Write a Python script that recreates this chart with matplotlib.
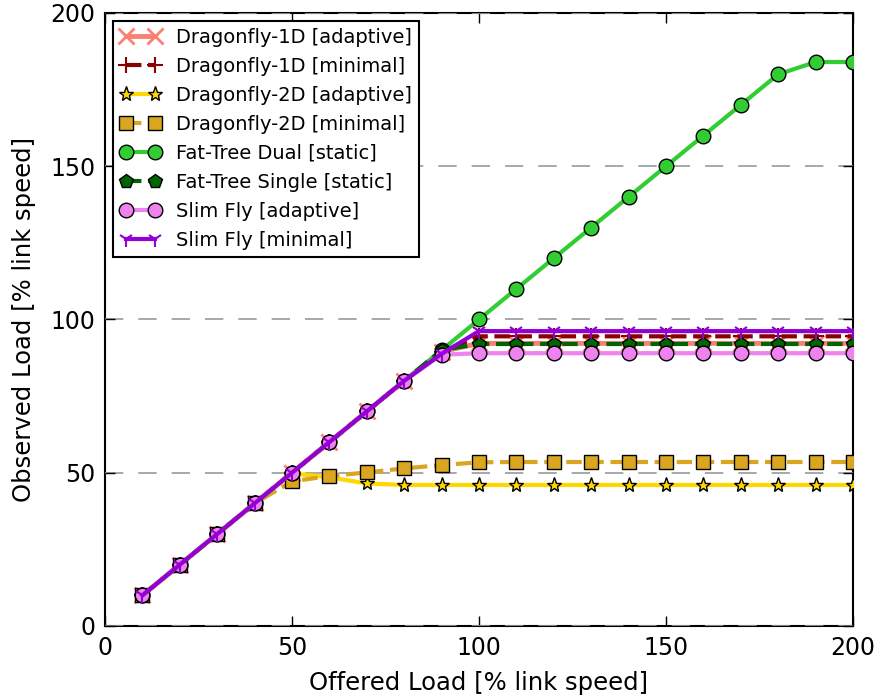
import matplotlib
matplotlib.use("Agg")
import matplotlib.pyplot as plt

# Offered load [% link speed]
offered = [10, 20, 30, 40, 50, 60, 70, 80, 90, 100, 110, 120, 130, 140, 150,
           160, 170, 180, 190, 200]

# Observed load [% link speed] for each topology / routing
df1d_adaptive = [10, 20, 30, 40, 50, 60, 70, 80, 89.5, 92.2, 92.2, 92.2, 92.2,
                 92.2, 92.2, 92.2, 92.2, 92.2, 92.2, 92.2]
df1d_minimal = [10, 20, 30, 40, 50, 60, 70, 80, 89.5, 94.5, 94.5, 94.5, 94.5,
                94.5, 94.5, 94.5, 94.5, 94.5, 94.5, 94.5]
df2d_adaptive = [10, 20, 30, 40, 49.8, 48.5, 46.5, 46.0, 46.0, 46.0, 46.0, 46.0,
                 46.0, 46.0, 46.0, 46.0, 46.0, 46.0, 46.0, 46.0]
df2d_minimal = [10, 20, 30, 40, 47.2, 48.9, 50.1, 51.4, 52.5, 53.4, 53.5, 53.5,
                53.5, 53.5, 53.5, 53.5, 53.5, 53.5, 53.5, 53.5]
ft_dual = [10, 20, 30, 40, 50, 60, 70, 80, 90, 100, 110, 120, 130, 140, 150,
           160, 170, 180, 184, 184]
ft_single = [10, 20, 30, 40, 50, 60, 70, 80, 90, 92.0, 92.0, 92.0, 92.0, 92.0,
             92.0, 92.0, 92.0, 92.0, 92.0, 92.0]
sf_adaptive = [10, 20, 30, 40, 50, 60, 70, 80, 88.5, 89.0, 89.0, 89.0, 89.0,
               89.0, 89.0, 89.0, 89.0, 89.0, 89.0, 89.0]
sf_minimal = [10, 20, 30, 40, 50, 60, 70, 80, 88.8, 96.2, 96.2, 96.2, 96.2,
              96.2, 96.2, 96.2, 96.2, 96.2, 96.2, 96.2]

labels = ["Dragonfly-1D [adaptive]", "Dragonfly-1D [minimal]",
          "Dragonfly-2D [adaptive]", "Dragonfly-2D [minimal]",
          "Fat-Tree Dual [static]", "Fat-Tree Single [static]",
          "Slim Fly [adaptive]", "Slim Fly [minimal]"]

x_ticks = [0, 50, 100, 150, 200]
y_ticks = [0, 50, 100, 150, 200]

plt.rcParams["font.family"] = ["DejaVu Sans"]

fig = plt.figure(figsize=(8.79, 6.98), dpi=100)
ax = fig.add_axes([0.1195, 0.1032, 0.8509, 0.8782])

series = [
    (df1d_adaptive, dict(color="#FA8072", ls="-", lw=3.5, marker="x", ms=11,
                         mew=2, mec="#FA8072")),
    (df1d_minimal, dict(color="#8B0000", ls="--", lw=3, marker="+", ms=11,
                        mew=1.5, mec="#8B0000")),
    (df2d_adaptive, dict(color="#FFD700", ls="-", lw=3, marker="*", ms=11,
                         mew=1, mec="black")),
    (df2d_minimal, dict(color="#DAA520", ls="--", lw=3, marker="s", ms=10,
                        mew=1, mec="black")),
    (ft_dual, dict(color="#32CD32", ls="-", lw=3, marker="o", ms=10.5,
                   mew=1, mec="black")),
    (ft_single, dict(color="#006400", ls="--", lw=3, marker="p", ms=10,
                     mew=1, mec="black")),
    (sf_adaptive, dict(color="#EE82EE", ls="-", lw=3, marker="o", ms=10.5,
                       mew=1, mec="black")),
    (sf_minimal, dict(color="#9400D3", ls="-", lw=3, marker="1", ms=11,
                      mew=1.5, mec="#9400D3")),
]

for i, ((ys, style), label) in enumerate(zip(series, labels)):
    ax.plot(offered, ys, label=label, zorder=3 + i * 0.01, **style)

ax.set_xlim(0, 200)
ax.set_ylim(0, 200)
ax.set_xticks(x_ticks)
ax.set_yticks(y_ticks)
ax.tick_params(direction="in", length=7, width=1, labelsize=17,
               top=True, right=True, pad=7)

ax.set_axisbelow(False)
ax.yaxis.grid(True, color="#999999", linestyle=(0, (11, 9)), linewidth=1.2)
ax.xaxis.grid(False)
for sp in ax.spines.values():
    sp.set_linewidth(1.5)
    sp.set_zorder(2.0)

ax.set_xlabel("Offered Load [% link speed]", fontsize=17.5, labelpad=8)
ax.set_ylabel("Observed Load [% link speed]", fontsize=17.5, labelpad=10)

leg = ax.legend(loc="upper left", fontsize=14, numpoints=2, fancybox=False,
                framealpha=1, edgecolor="black", handlelength=2.1,
                handletextpad=0.75, labelspacing=0.51, borderaxespad=0.4,
                borderpad=0.38)
leg.get_frame().set_linewidth(1.5)
leg.set_zorder(10)

fig.savefig("out.png", dpi=100, facecolor="white")
